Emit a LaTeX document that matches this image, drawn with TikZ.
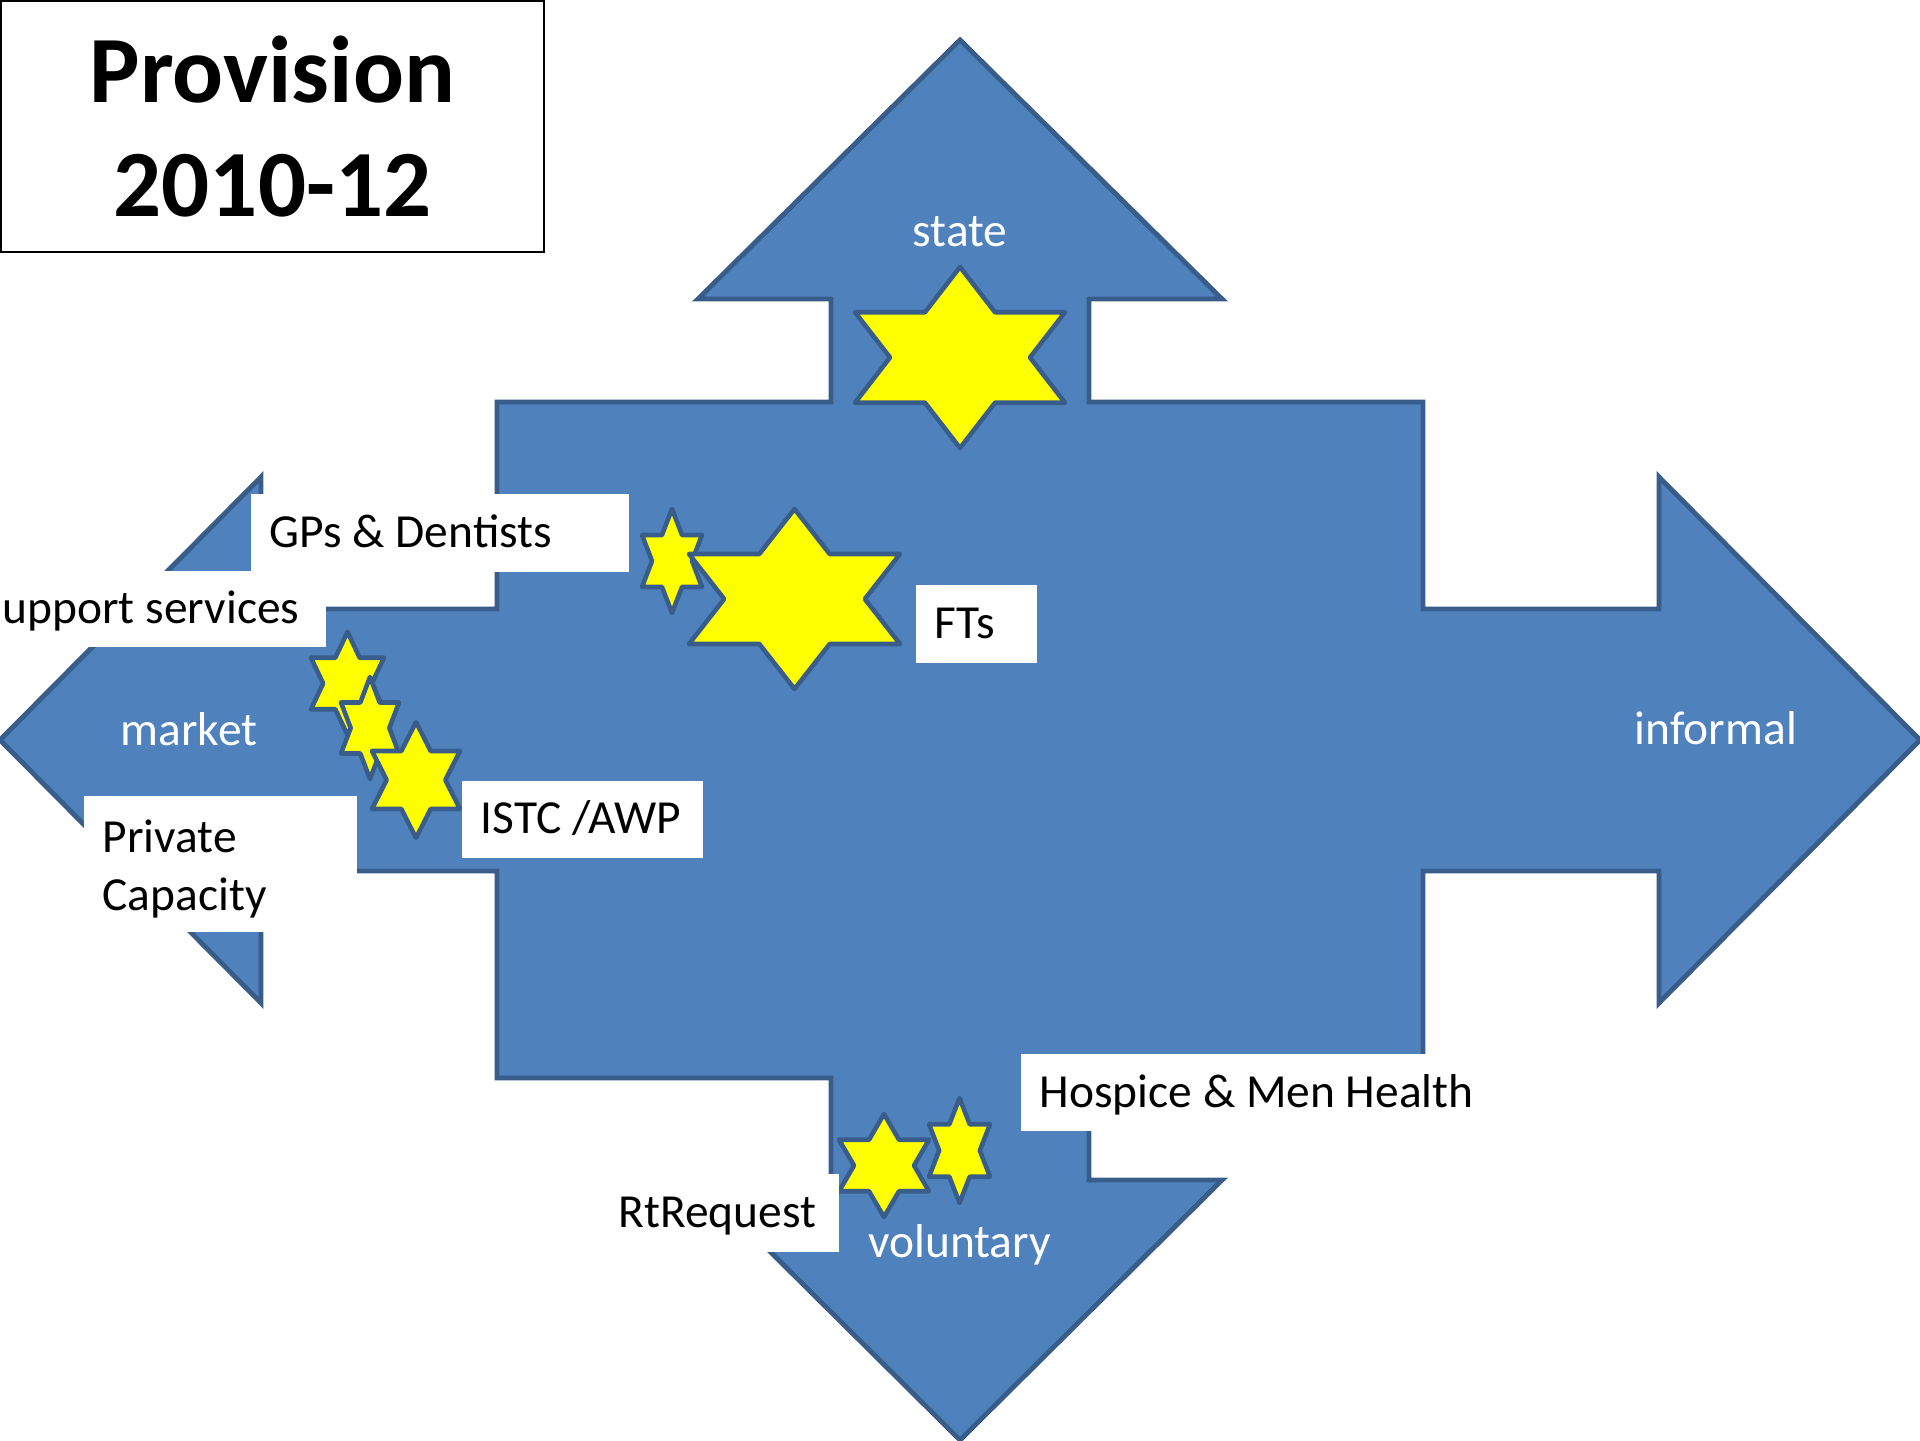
\documentclass[tikz,border=0pt]{standalone}
\usepackage{fontspec}
\setmainfont{Carlito}
\definecolor{crossblue}{HTML}{4F81BD}
\definecolor{crossedge}{HTML}{385D8A}
\definecolor{staryellow}{HTML}{FFFF00}
\newcommand{\labelsize}{\fontsize{13.5}{16.5}\selectfont}
\newcommand{\titlesize}{\fontsize{27}{32.4}\selectfont}
% six pointed star: centre x, centre y, width, height
\newcommand{\hexstar}[4]{\draw[yellowstar,shift={(#1,#2)},xscale=#3,yscale=#4] (0,0.5) -- (0.1667,0.25) -- (0.5,0.25) -- (0.3333,0) -- (0.5,-0.25) -- (0.1667,-0.25) -- (0,-0.5) -- (-0.1667,-0.25) -- (-0.5,-0.25) -- (-0.3333,0) -- (-0.5,0.25) -- (-0.1667,0.25) -- cycle;}
\begin{document}
\begin{tikzpicture}[
  cross/.style={fill=crossblue,draw=crossedge,line width=1.4pt},
  yellowstar/.style={fill=staryellow,draw=crossedge,line width=1.3pt,line join=round},
  tagbase/.style={fill=white,anchor=north west,inner xsep=0.19cm,inner ysep=0pt,align=flush left,font=\labelsize},
  tag/.style={tagbase,text height=1.0em,text depth=0.17em},
  dirtext/.style={text=white,anchor=base,font=\labelsize},
  titlebox/.style={draw=black,line width=0.8pt,align=center,font=\titlesize\bfseries}]
\useasboundingbox (0,0) rectangle (19.2,14.4);
% the four way arrow
\draw[cross] (9.6,14.0) -- (12.22,11.41) -- (10.89,11.41) -- (10.89,10.38) -- (14.23,10.38) -- (14.23,8.31) -- (16.59,8.31) -- (16.59,9.63) -- (19.2,7.0) -- (16.59,4.37) -- (16.59,5.69) -- (14.23,5.69) -- (14.23,3.62) -- (10.89,3.62) -- (10.89,2.60) -- (12.22,2.60) -- (9.6,0) -- (6.98,2.60) -- (8.31,2.60) -- (8.31,3.62) -- (4.97,3.62) -- (4.97,5.69) -- (2.61,5.69) -- (2.61,4.37) -- (0,7.0) -- (2.61,9.63) -- (2.61,8.31) -- (4.97,8.31) -- (4.97,10.38) -- (8.31,10.38) -- (8.31,11.41) -- (6.98,11.41) -- cycle;
\node[dirtext] (state) at (9.60,11.93) {state};
\node[dirtext] (market) at (1.89,6.94) {market};
\node[dirtext] (informal) at (17.16,6.95) {informal};
\node[dirtext] (voluntary) at (9.595,1.83) {voluntary};
% stars
\hexstar{9.60}{10.825}{2.10}{1.81}
\hexstar{6.72}{8.79}{0.60}{1.04}
\hexstar{7.945}{8.41}{2.11}{1.80}
\hexstar{3.475}{7.565}{0.73}{1.03}
\hexstar{3.70}{7.12}{0.58}{1.02}
\hexstar{4.16}{6.60}{0.88}{1.16}
\hexstar{8.84}{2.745}{0.90}{1.03}
\hexstar{9.595}{2.895}{0.61}{1.05}
% labels
\node[tag,text width=3.40cm,minimum height=0.78cm] (gps) at (2.50,9.47) {GPs \& Dentists};
\node[tag,inner xsep=0.02cm,text width=3.21cm,minimum height=0.757cm] (support) at (0,8.693) {upport services};
\node[tagbase,text width=2.35cm,minimum height=1.36cm] (private) at (0.83,6.45) {\rule{0pt}{0.9em}Private\\Capacity};
\node[tag,text width=2.03cm,minimum height=0.77cm] (istc) at (4.61,6.60) {ISTC~/AWP};
\node[tag,text width=0.83cm,minimum height=0.78cm] (fts) at (9.15,8.56) {FTs};
\node[tag,text width=4.52cm,minimum height=0.775cm] (hospice) at (10.20,3.87) {Hospice \& Men Health};
\node[tag,text width=2.01cm,minimum height=0.78cm] (rtreq) at (5.99,2.67) {RtRequest};
% title
\node[titlebox,minimum width=5.43cm,minimum height=2.51cm] (title) at (2.725,13.135) {Provision\\2010-12};
\end{tikzpicture}
\end{document}
